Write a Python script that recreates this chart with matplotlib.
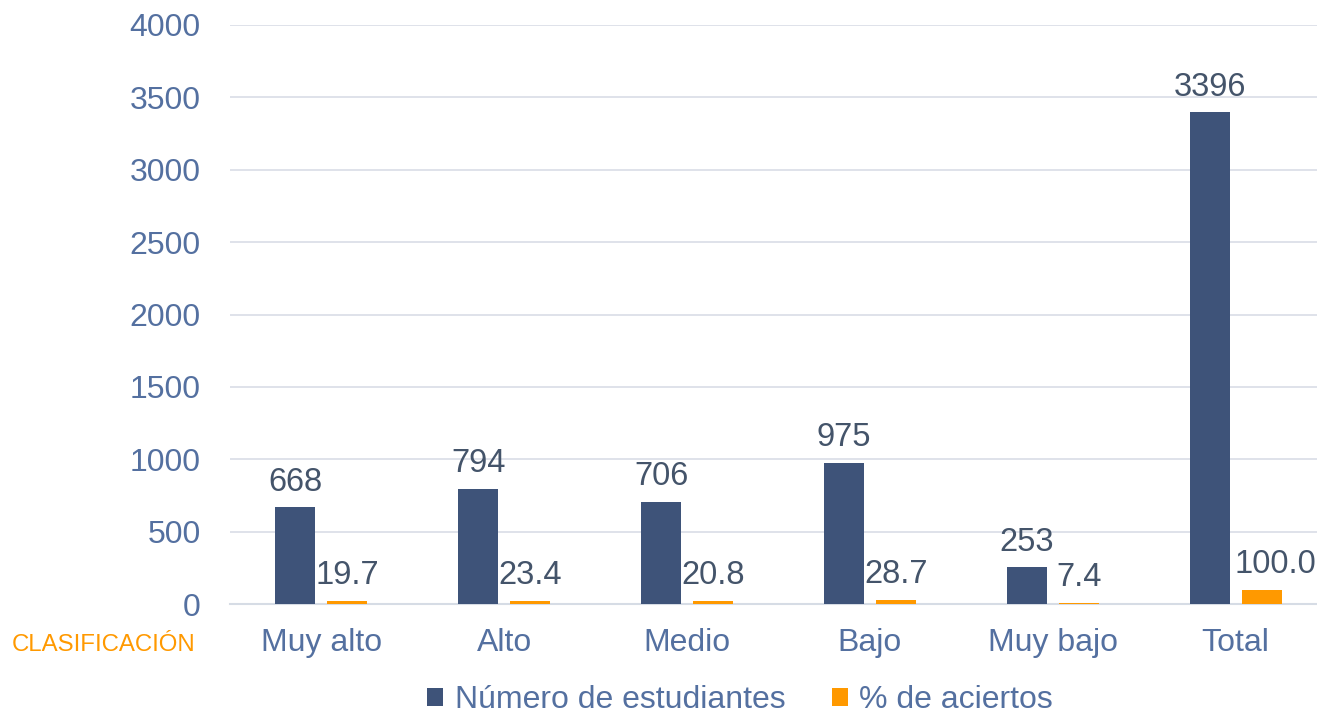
import matplotlib.pyplot as plt
import numpy as np

categorias = ["Muy alto", "Alto", "Medio", "Bajo", "Muy bajo", "Total"]
num_estudiantes = [668, 794, 706, 975, 253, 3396]
pct_aciertos = [19.7, 23.4, 20.8, 28.7, 7.4, 100.0]

azul = "#3E5379"
naranja = "#FF9900"
cor_ticks = "#5470A0"
cor_rotulos = "#44546A"

plt.rcParams['font.family'] = ['Liberation Sans', 'DejaVu Sans']

fig = plt.figure(figsize=(13.17, 7.15), dpi=100)
ax = fig.add_axes([230 / 1317, 1 - 604 / 715, 1097 / 1317, 579 / 715])

x = np.arange(len(categorias))
larg = 0.219
desloc = 0.142

b1 = ax.bar(x - desloc, num_estudiantes, larg, color=azul, label="Número de estudiantes", zorder=3)
b2 = ax.bar(x + desloc, pct_aciertos, larg, color=naranja, label="% de aciertos", zorder=3)

for barras, fmt in ((b1, "{:.0f}"), (b2, "{:.1f}")):
    for b in barras:
        texto = fmt.format(b.get_height())
        # o rótulo largo (100.0) fica deslocado p/ a direita, como no Excel
        dx = 10 if len(texto) > 4 else 0
        ax.annotate(texto,
                    (b.get_x() + b.get_width() / 2, b.get_height()),
                    xytext=(dx, 7), textcoords="offset points",
                    ha="center", va="bottom", fontsize=23.5, color=cor_rotulos,
                    zorder=4)

ax.set_xlim(-0.5, len(categorias) - 0.5)
ax.set_ylim(0, 4000)
ax.set_yticks(range(0, 4001, 500))
ax.set_xticks(x)
ax.set_xticklabels(categorias)
ax.tick_params(axis='both', length=0, labelsize=23, labelcolor=cor_ticks)
ax.tick_params(axis='y', pad=21)
ax.tick_params(axis='x', pad=17)

ax.grid(True, axis='y', color="#D9DDE6", linewidth=1.2, zorder=0)
for lado in ["top", "right", "left"]:
    ax.spines[lado].set_visible(False)
ax.spines["bottom"].set_color("#D6DCE5")
ax.spines["bottom"].set_linewidth(1.5)

fig.text(12 / 1317, 1 - 645 / 715, "CLASIFICACIÓN", color=naranja, fontsize=17.3,
         ha="left", va="center")

fig.legend(handles=[b1, b2], loc="center", bbox_to_anchor=(740 / 1317, 1 - 700 / 715),
           ncol=2, frameon=False, fontsize=23, labelcolor=cor_ticks,
           handlelength=0.5, handleheight=0.5, handletextpad=0.35, columnspacing=1.45)

fig.savefig("out.png", dpi=100)
